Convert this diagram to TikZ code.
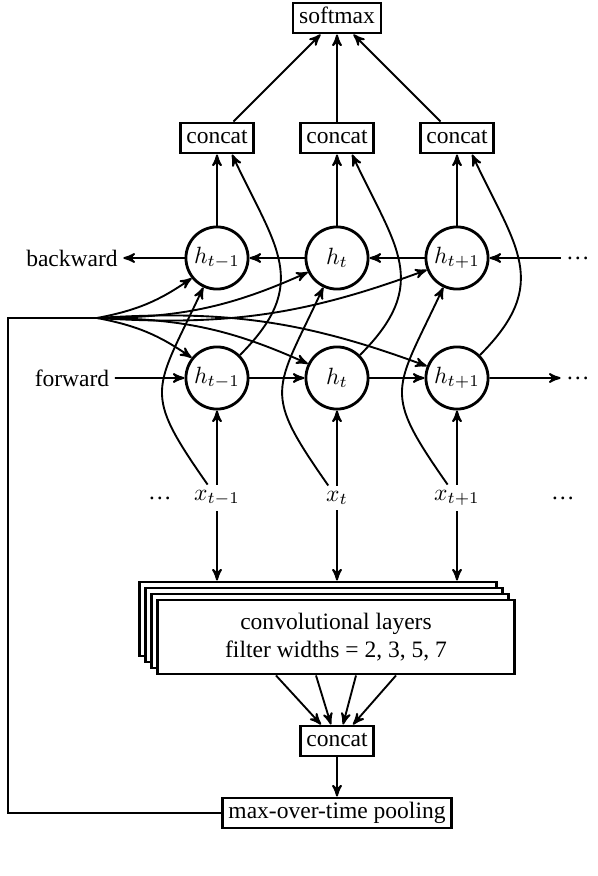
\documentclass[tikz,border=0pt]{standalone}
\usepackage[no-math]{fontspec}
\setmainfont{Liberation Serif}
\usepackage{amsmath}
\usepackage{tikz}
\usetikzlibrary{arrows}

\begin{document}
\begin{tikzpicture}[->,>=stealth',x=0.425pt,y=-0.425pt,node distance=51pt,
			thick,hid node/.style={circle,draw,very thick,minimum size=26.4pt,inner sep=0pt},
			box node/.style={rectangle,draw,very thick,fill=white,inner xsep=2.6pt,
				inner ysep=1.9pt,text height=7pt,text depth=2pt},
			conv node/.style={rectangle,draw,very thick,fill=white,align=center,
				minimum width=152pt,minimum height=31.5pt},
			lab node/.style={inner sep=2pt}]
			
			\useasboundingbox (0,0) rectangle (598,876);
			
			\node[hid node] (B1) at (217,258) {$h_{t-1}$};
			\node[hid node] (B2) [right of=B1] {$h_t$};
			\node[hid node] (B3) [right of=B2] {$h_{t+1}$};
			\node[hid node] (F1) [below of=B1] {$h_{t-1}$};
			\node[hid node] (F2) [right of=F1] {$h_t$};
			\node[hid node] (F3) [right of=F2] {$h_{t+1}$};
			\node[box node] (C1) [above of=B1] {concat};
			\node[box node] (C2) [above of=B2] {concat};
			\node[box node] (C3) [above of=B3] {concat};
			\node[box node] (SM) [above of=C2] {softmax};
			\node[lab node] (X1) [below of=F1] {$x_{t-1}$};
			\node[lab node] (X2) [below of=F2] {$x_t$};
			\node[lab node] (X3) [below of=F3] {$x_{t+1}$};
			\node[lab node] (XL) at (160,498) {\dots};
			\node[lab node] (XR) at (563,498) {\dots};
			\node[lab node] (BW) at (72,258) {backward};
			\node[lab node] (FW) at (72,378) {forward};
			\node[lab node] (BD) at (578,258) {\dots};
			\node[lab node] (FD) at (578,378) {\dots};
			\coordinate (FAN) at (97,318);
			
			% stacked conv layers
			\foreach \k in {3,2,1}
				\node[conv node] (CV\k) at (336-6*\k,637-6*\k) {};
			\node[conv node] (CV) at (336,637) {convolutional layers\\filter widths = 2, 3, 5, 7};
			\node[box node] (CB) at (337,741) {concat};
			\node[box node] (PL) at (337,813) {max-over-time pooling};
			
			\path
			(FW) edge (F1)
			(F1) edge (F2)
			(F2) edge (F3)
			(F3) edge (FD)
			(BD) edge (B3)
			(B3) edge (B2)
			(B2) edge (B1)
			(B1) edge (BW)
			(B1) edge (C1)
			(B2) edge (C2)
			(B3) edge (C3)
			(C1) edge (SM)
			(C2) edge (SM)
			(C3) edge (SM)
			(X1) edge (F1)
			(X2) edge (F2)
			(X3) edge (F3)
			(X1) edge (X1 |- CV3.north)
			(X2) edge (X2 |- CV3.north)
			(X3) edge (X3 |- CV3.north)
			(CB) edge (PL);
			
			\foreach \i in {1,2,3} {
				\draw (X\i) to[out=125,in=-115,looseness=1.5] (B\i);
				\draw (F\i) to[out=45,in=-65,looseness=1.3] ([xshift=6.4pt]C\i.south);
				\path (FAN) edge[bend right=12] (B\i);
				\path (FAN) edge[bend left=12] (F\i);
			}
			
			\foreach \a/\b in {-60/-16,-20/-6,20/6,60/16}
				\draw ([xshift=\a*0.425pt]CV.south) -- ([xshift=\b*0.425pt]CB.north);
			
			\draw[-] (PL.west) -| (8,318) -- (FAN);
			
		\end{tikzpicture}
\end{document}
